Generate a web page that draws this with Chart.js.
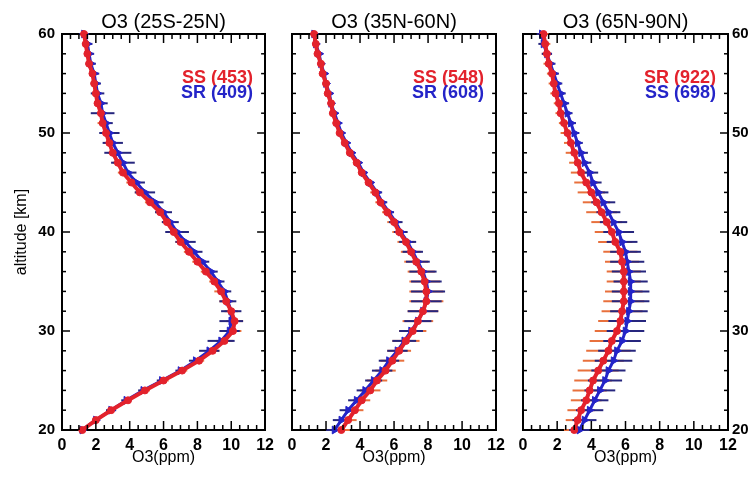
<!DOCTYPE html>
<html>
<head>
<meta charset="utf-8">
<script src="https://cdn.jsdelivr.net/npm/chart.js@4.4.1/dist/chart.umd.min.js"></script>
<style>
  html, body { margin: 0; padding: 0; background: #fff; }
  #wrap { position: relative; width: 753px; height: 478px; }
  canvas { position: absolute; top: 0; }
</style>
</head>
<body>
<div id="wrap">
  <canvas id="p1" width="280" height="478" style="left:0px"></canvas>
  <canvas id="p2" width="231" height="478" style="left:280px"></canvas>
  <canvas id="p3" width="242" height="478" style="left:511px"></canvas>
</div>
<script>
  const altitudes = [20, 21, 22, 23, 24, 25, 26, 27, 28, 29, 30, 31, 32, 33, 34, 35, 36, 37, 38, 39,
    40, 41, 42, 43, 44, 45, 46, 47, 48, 49, 50, 51, 52, 53, 54, 55, 56, 57, 58, 59, 60];
  const xTicks = [0, 2, 4, 6, 8, 10, 12];
  const yTicks = [20, 30, 40, 50, 60];

  // 25S-25N
  const tropicsSS = [1.2, 2.0, 2.9, 3.9, 4.9, 6.0, 7.1, 8.1, 8.9, 9.6, 10.1, 10.2, 10.0, 9.7, 9.4, 9.0, 8.5, 8.0, 7.5, 7.0,
    6.6, 6.2, 5.8, 5.2, 4.6, 4.1, 3.6, 3.3, 3.0, 2.8, 2.6, 2.4, 2.3, 2.1, 2.0, 1.9, 1.8, 1.6, 1.5, 1.4, 1.3];
  const tropicsSSErr = [0.2, 0.2, 0.2, 0.2, 0.3, 0.3, 0.3, 0.3, 0.4, 0.5, 0.5, 0.5, 0.4, 0.4, 0.4, 0.3, 0.3, 0.3, 0.3, 0.3,
    0.3, 0.3, 0.3, 0.3, 0.3, 0.3, 0.3, 0.3, 0.3, 0.3, 0.3, 0.3, 0.2, 0.2, 0.2, 0.2, 0.2, 0.2, 0.2, 0.2, 0.2];
  const tropicsSR = [1.2, 2.0, 2.9, 3.8, 4.8, 5.9, 7.0, 7.9, 8.7, 9.4, 9.9, 10.0, 10.0, 9.8, 9.6, 9.2, 8.8, 8.3, 7.8, 7.3,
    6.8, 6.4, 6.0, 5.5, 4.9, 4.4, 3.9, 3.6, 3.3, 3.0, 2.8, 2.6, 2.4, 2.3, 2.1, 2.0, 1.9, 1.7, 1.6, 1.5, 1.3];
  const tropicsSRErr = [0.2, 0.2, 0.3, 0.3, 0.3, 0.3, 0.3, 0.4, 0.6, 0.8, 0.6, 0.7, 0.6, 0.5, 0.4, 0.4, 0.4, 0.4, 0.5, 0.6,
    0.7, 0.5, 0.5, 0.5, 0.6, 0.5, 0.5, 0.7, 0.8, 0.6, 0.6, 0.4, 0.7, 0.4, 0.4, 0.3, 0.3, 0.3, 0.3, 0.3, 0.3];

  // 35N-60N
  const midlatSS = [2.9, 3.3, 3.7, 4.1, 4.6, 5.0, 5.5, 5.9, 6.3, 6.7, 7.1, 7.4, 7.7, 7.9, 7.9, 7.8, 7.6, 7.3, 7.0, 6.7,
    6.3, 6.0, 5.6, 5.2, 4.9, 4.5, 4.1, 3.8, 3.4, 3.1, 2.8, 2.6, 2.4, 2.3, 2.1, 2.0, 1.8, 1.7, 1.5, 1.4, 1.3];
  const midlatSSErr = [0.5, 0.5, 0.5, 0.5, 0.6, 0.6, 0.6, 0.7, 0.7, 0.8, 0.8, 0.9, 0.9, 1.0, 1.0, 0.9, 0.8, 0.7, 0.6, 0.5,
    0.4, 0.4, 0.3, 0.3, 0.3, 0.2, 0.2, 0.2, 0.2, 0.2, 0.2, 0.2, 0.2, 0.2, 0.2, 0.2, 0.2, 0.2, 0.2, 0.2, 0.2];
  const midlatSR = [2.5, 2.9, 3.3, 3.8, 4.3, 4.8, 5.3, 5.7, 6.2, 6.6, 7.0, 7.4, 7.7, 7.9, 8.0, 7.9, 7.7, 7.4, 7.1, 6.8,
    6.4, 6.1, 5.7, 5.3, 5.0, 4.6, 4.2, 3.9, 3.5, 3.2, 2.9, 2.7, 2.5, 2.3, 2.2, 2.0, 1.9, 1.7, 1.6, 1.4, 1.3];
  const midlatSRErr = [0.5, 0.5, 0.5, 0.5, 0.5, 0.5, 0.6, 0.6, 0.6, 0.7, 0.7, 0.8, 0.9, 0.9, 1.0, 0.9, 0.8, 0.7, 0.6, 0.5,
    0.4, 0.4, 0.3, 0.3, 0.3, 0.2, 0.2, 0.2, 0.2, 0.2, 0.2, 0.2, 0.2, 0.2, 0.2, 0.2, 0.2, 0.2, 0.2, 0.2, 0.2];

  // 65N-90N
  const polarSR = [3.0, 3.2, 3.4, 3.7, 3.9, 4.1, 4.4, 4.7, 5.0, 5.2, 5.5, 5.7, 5.8, 5.9, 5.9, 5.9, 5.9, 5.8, 5.7, 5.4,
    5.2, 4.9, 4.6, 4.3, 4.0, 3.7, 3.4, 3.2, 3.0, 2.8, 2.6, 2.4, 2.2, 2.1, 1.9, 1.8, 1.7, 1.5, 1.4, 1.3, 1.2];
  const polarSRErr = [0.6, 0.7, 0.8, 0.9, 1.0, 1.1, 1.2, 1.2, 1.3, 1.3, 1.3, 1.3, 1.2, 1.2, 1.1, 1.0, 1.0, 1.0, 1.0, 1.0,
    1.0, 0.9, 0.9, 0.8, 0.8, 0.7, 0.6, 0.5, 0.5, 0.4, 0.4, 0.3, 0.3, 0.3, 0.3, 0.3, 0.3, 0.3, 0.3, 0.3, 0.3];
  const polarSS = [3.3, 3.6, 3.9, 4.2, 4.5, 4.8, 5.0, 5.3, 5.5, 5.8, 6.0, 6.1, 6.2, 6.3, 6.3, 6.3, 6.2, 6.1, 6.0, 5.8,
    5.6, 5.3, 5.0, 4.7, 4.4, 4.1, 3.9, 3.6, 3.4, 3.2, 3.0, 2.8, 2.6, 2.4, 2.2, 2.0, 1.8, 1.6, 1.4, 1.2, 1.1];
  const polarSSErr = [0.6, 0.7, 0.8, 0.8, 0.9, 1.0, 1.0, 1.1, 1.1, 1.1, 1.1, 1.1, 1.1, 1.1, 1.1, 1.0, 1.0, 1.0, 0.9, 0.9,
    0.9, 0.8, 0.7, 0.7, 0.6, 0.5, 0.5, 0.4, 0.4, 0.3, 0.3, 0.3, 0.3, 0.3, 0.3, 0.3, 0.3, 0.3, 0.3, 0.3, 0.3];

  const FONT = "'Liberation Sans', Arial, Helvetica, sans-serif";
  const RED = '#e3222c';
  const BLUE = '#2424c8';
  const RED_ERR = '#e8703c';
  const BLUE_ERR = '#26267e';

  Chart.defaults.font.family = FONT;
  Chart.defaults.color = '#000';

  const toPoints = (values) => values.map((v, i) => ({ x: v, y: altitudes[i] }));

  // horizontal error bars, drawn under the lines
  const errorBars = {
    id: 'errorBars',
    beforeDatasetsDraw(chart) {
      const { ctx, scales } = chart;
      const x = scales.x;
      const y = scales.y;
      ctx.save();
      ctx.lineWidth = 2;
      chart.data.datasets.forEach((ds) => {
        ctx.strokeStyle = ds.errColor;
        ds.data.forEach((p, i) => {
          const e = ds.errors[i];
          const py = y.getPixelForValue(p.y);
          ctx.beginPath();
          ctx.moveTo(x.getPixelForValue(p.x - e), py);
          ctx.lineTo(x.getPixelForValue(p.x + e), py);
          ctx.stroke();
        });
      });
      ctx.restore();
    },
  };

  // inward major/minor tick marks on all four sides
  const tickMarks = {
    id: 'tickMarks',
    afterDraw(chart, args, opts) {
      const { ctx, chartArea: a, scales } = chart;
      const x = scales.x;
      const y = scales.y;
      ctx.save();
      ctx.strokeStyle = '#000';
      ctx.lineWidth = 1.5;
      const mark = (x1, y1, x2, y2) => {
        ctx.beginPath();
        ctx.moveTo(x1, y1);
        ctx.lineTo(x2, y2);
        ctx.stroke();
      };
      const nx = Math.round((x.max - x.min) / opts.xMinor);
      const xEvery = Math.round(opts.xMajor / opts.xMinor);
      for (let i = 0; i <= nx; i++) {
        const px = x.getPixelForValue(x.min + i * opts.xMinor);
        const len = i % xEvery === 0 ? 9 : 5;
        mark(px, a.bottom, px, a.bottom - len);
        mark(px, a.top, px, a.top + len);
      }
      const ny = Math.round((y.max - y.min) / opts.yMinor);
      const yEvery = Math.round(opts.yMajor / opts.yMinor);
      for (let i = 0; i <= ny; i++) {
        const py = y.getPixelForValue(y.min + i * opts.yMinor);
        const len = i % yEvery === 0 ? 8 : 4;
        mark(a.left, py, a.left + len, py);
        mark(a.right, py, a.right - len, py);
      }
      ctx.restore();
    },
  };

  const legendText = {
    id: 'legendText',
    afterDatasetsDraw(chart, args, opts) {
      const { ctx, chartArea } = chart;
      ctx.save();
      ctx.font = 'bold 18px ' + FONT;
      ctx.textAlign = 'right';
      ctx.textBaseline = 'middle';
      opts.lines.forEach((line, i) => {
        ctx.fillStyle = line.color;
        ctx.fillText(line.text, chartArea.right - 12, chartArea.top + 44 + i * 15.5);
      });
      ctx.restore();
    },
  };

  function buildScales(panel) {
    const tickFont = { family: FONT, size: 16, weight: 'bold' };
    const yFont = { family: FONT, size: 15, weight: 'bold' };
    const noGrid = { display: false, drawTicks: false };
    const border = { color: '#000', width: 2 };
    return {
      x: {
        type: 'linear', position: 'bottom', min: 0, max: 12,
        afterBuildTicks: (s) => { s.ticks = xTicks.map((v) => ({ value: v })); },
        ticks: { font: tickFont, padding: 6, maxRotation: 0, autoSkip: false },
        grid: noGrid,
        border,
        title: { display: true, text: 'O3(ppm)', font: { size: 16 }, padding: { top: 0, bottom: 11 } },
        afterFit: (s) => { s.height = 48; },
      },
      xTop: {
        type: 'linear', position: 'top', min: 0, max: 12,
        ticks: { display: false },
        grid: noGrid,
        border,
        title: { display: true, text: panel.title, font: { size: 20 }, padding: { top: 10, bottom: 0 } },
        afterFit: (s) => { s.height = 34; },
      },
      y: {
        type: 'linear', position: 'left', min: 20, max: 60,
        afterBuildTicks: (s) => { s.ticks = yTicks.map((v) => ({ value: v })); },
        ticks: { display: panel.leftLabels, font: yFont, padding: 7 },
        grid: noGrid,
        border,
        title: {
          display: panel.leftLabels, text: 'altitude [km]', font: { size: 16 },
          padding: { top: 12, bottom: 0 },
        },
        afterFit: (s) => { s.width = panel.leftWidth; },
      },
      yRight: {
        type: 'linear', position: 'right', min: 20, max: 60,
        afterBuildTicks: (s) => { s.ticks = yTicks.map((v) => ({ value: v })); },
        ticks: { display: panel.rightLabels, font: yFont, padding: 4 },
        grid: noGrid,
        border,
        afterFit: (s) => { s.width = panel.rightWidth; },
      },
    };
  }

  function drawPanel(elementId, panel) {
    const data = {
      datasets: [
        {
          label: panel.redLabel,
          data: toPoints(panel.red),
          errors: panel.redErr,
          errColor: RED_ERR,
          borderColor: RED,
          backgroundColor: RED,
          borderWidth: 4,
          pointStyle: 'circle',
          pointRadius: 3.5,
          pointBorderWidth: 1,
          clip: false,
        },
        {
          label: panel.blueLabel,
          data: toPoints(panel.blue),
          errors: panel.blueErr,
          errColor: BLUE_ERR,
          borderColor: BLUE,
          backgroundColor: BLUE,
          borderWidth: 3,
          pointStyle: 'triangle',
          pointRotation: 90,
          pointRadius: 4.5,
          pointBorderWidth: 1,
          clip: false,
        },
      ],
    };
    const config = {
      type: 'line',
      data,
      options: {
        responsive: false,
        animation: false,
        indexAxis: 'y',
        layout: { padding: 0, autoPadding: false },
        scales: buildScales(panel),
        plugins: {
          legend: { display: false },
          tooltip: { enabled: false },
          legendText: { lines: panel.legend },
          tickMarks: { xMajor: 2, xMinor: 0.5, yMajor: 10, yMinor: 2 },
        },
      },
      plugins: [errorBars, tickMarks, legendText],
    };
    return new Chart(document.getElementById(elementId), config);
  }

  drawPanel('p1', {
    title: 'O3 (25S-25N)', leftLabels: true, rightLabels: false, leftWidth: 62, rightWidth: 12,
    red: tropicsSS, redErr: tropicsSSErr, blue: tropicsSR, blueErr: tropicsSRErr,
    redLabel: 'SS', blueLabel: 'SR',
    legend: [{ text: 'SS (453)', color: RED }, { text: 'SR (409)', color: BLUE }],
  });
  drawPanel('p2', {
    title: 'O3 (35N-60N)', leftLabels: false, rightLabels: false, leftWidth: 12, rightWidth: 12,
    red: midlatSS, redErr: midlatSSErr, blue: midlatSR, blueErr: midlatSRErr,
    redLabel: 'SS', blueLabel: 'SR',
    legend: [{ text: 'SS (548)', color: RED }, { text: 'SR (608)', color: BLUE }],
  });
  drawPanel('p3', {
    title: 'O3 (65N-90N)', leftLabels: false, rightLabels: true, leftWidth: 12, rightWidth: 25,
    red: polarSR, redErr: polarSRErr, blue: polarSS, blueErr: polarSSErr,
    redLabel: 'SR', blueLabel: 'SS',
    legend: [{ text: 'SR (922)', color: RED }, { text: 'SS (698)', color: BLUE }],
  });
</script>
</body>
</html>
